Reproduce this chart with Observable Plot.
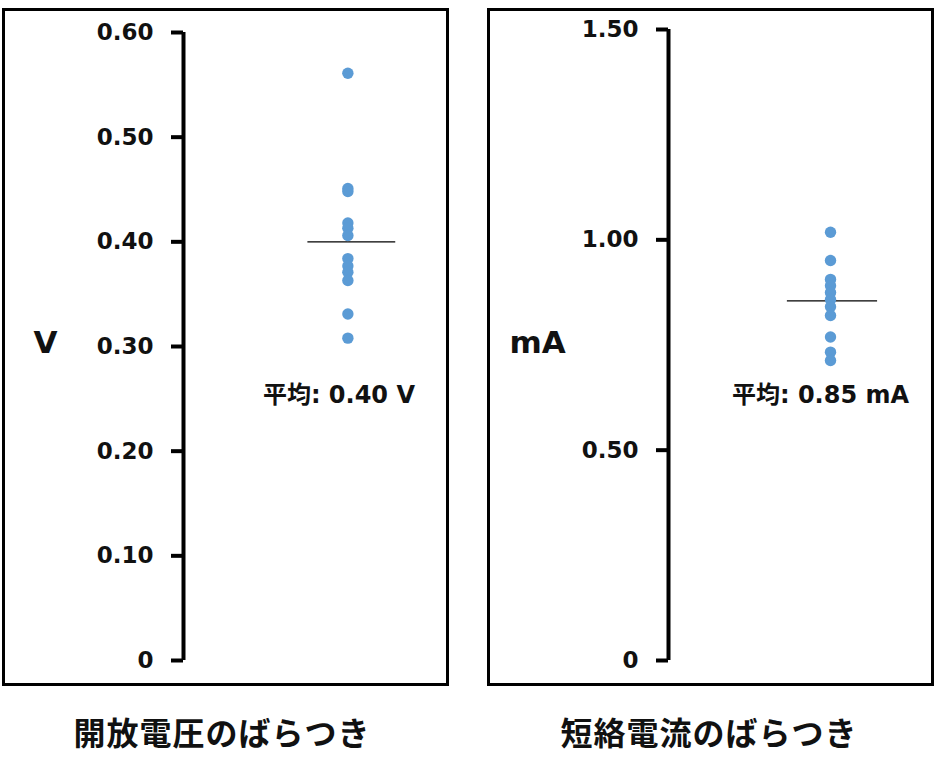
<!DOCTYPE html>
<html>
<head>
<meta charset="utf-8">
<script src="https://cdn.jsdelivr.net/npm/d3@7"></script>
<script src="https://cdn.jsdelivr.net/npm/@observablehq/plot@0.6"></script>
<style>
  html, body { margin: 0; padding: 0; background: #fff; }
  body { width: 936px; height: 775px; position: relative; overflow: hidden;
         font-family: "DejaVu Sans", "Noto Sans CJK JP", sans-serif; }
  .panel { position: absolute; top: 8px; width: 447px; height: 678px;
           border: 3px solid #000; box-sizing: border-box; }
  .panel svg { display: block; }
  .title { position: absolute; top: 708px; width: 400px; text-align: center;
           font-family: "Noto Sans CJK JP", sans-serif; font-weight: bold;
           font-size: 32px; letter-spacing: 1px; color: #111; }
</style>
</head>
<body>
<div class="panel" id="p1" style="left:2px"></div>
<div class="panel" id="p2" style="left:487px"></div>
<div class="title" style="left:22px">開放電圧のばらつき</div>
<div class="title" style="left:509px">短絡電流のばらつき</div>
<script>
// Open-circuit voltage samples (V)
const voltage = [0.561, 0.451, 0.448, 0.418, 0.413, 0.406, 0.384, 0.377, 0.371, 0.363, 0.331, 0.308];
// Short-circuit current samples (mA)
const current = [1.018, 0.951, 0.906, 0.891, 0.875, 0.858, 0.841, 0.820, 0.769, 0.733, 0.713];
// Mean values (line positions) and labels
const means = [0.40, 0.855];
const meanLabels = ["平均: 0.40 V", "平均: 0.85 mA"];
const units = ["V", "mA"];
const voltageTicks = [0, 0.1, 0.2, 0.3, 0.4, 0.5, 0.6];
const currentTicks = [0, 0.5, 1.0, 1.5];

const fmt = d => d === 0 ? "0" : d.toFixed(2);

function panel(values, ticks, mean, label, unit, cfg) {
  const ymax = ticks[ticks.length - 1];
  return Plot.plot({
    width: 441,
    height: 672,
    marginTop: cfg.marginTop,
    marginBottom: 23,
    marginLeft: 178,
    marginRight: 0,
    style: {fontFamily: '"DejaVu Sans", "Noto Sans CJK JP", sans-serif', fontWeight: "bold", color: "#111", background: "white"},
    x: {domain: [0, 1], axis: null},
    y: {domain: [0, ymax], axis: null},
    marks: [
      Plot.axisY({ticks: ticks, tickFormat: fmt, tickSize: 12, tickPadding: 18,
                  strokeWidth: 4, fontSize: 23, fontWeight: "bold", stroke: "#000"}),
      Plot.ruleX([0], {y1: 0, y2: ymax, strokeWidth: 4, stroke: "#000"}),
      Plot.ruleY([mean], {x1: d => cfg.lineX1, x2: d => cfg.lineX2, stroke: "#000", strokeWidth: 1.3}),
      Plot.dot(values, {x: d => cfg.dotX, y: d => d, r: 5.7, fill: "#5B9BD5", stroke: "none"}),
      Plot.text([label], {x: d => cfg.textX, y: d => cfg.textY, text: d => d, fontSize: 24, fontWeight: "bold", fill: "#111"}),
      Plot.text([unit], {x: d => cfg.unitX, y: d => cfg.unitY, text: d => d, fontSize: 31, fontWeight: "bold", fill: "#111"})
    ]
  });
}

document.getElementById("p1").append(panel(voltage, voltageTicks, means[0], meanLabels[0], units[0], {
  marginTop: 21, dotX: 0.625, lineX1: 0.473, lineX2: 0.807, textX: 0.591, textY: 0.253, unitX: -0.525, unitY: 0.303
}));
document.getElementById("p2").append(panel(current, currentTicks, means[1], meanLabels[1], units[1], {
  marginTop: 18, dotX: 0.616, lineX1: 0.452, lineX2: 0.795, textX: 0.578, textY: 0.630, unitX: -0.498, unitY: 0.754
}));
</script>
</body>
</html>
